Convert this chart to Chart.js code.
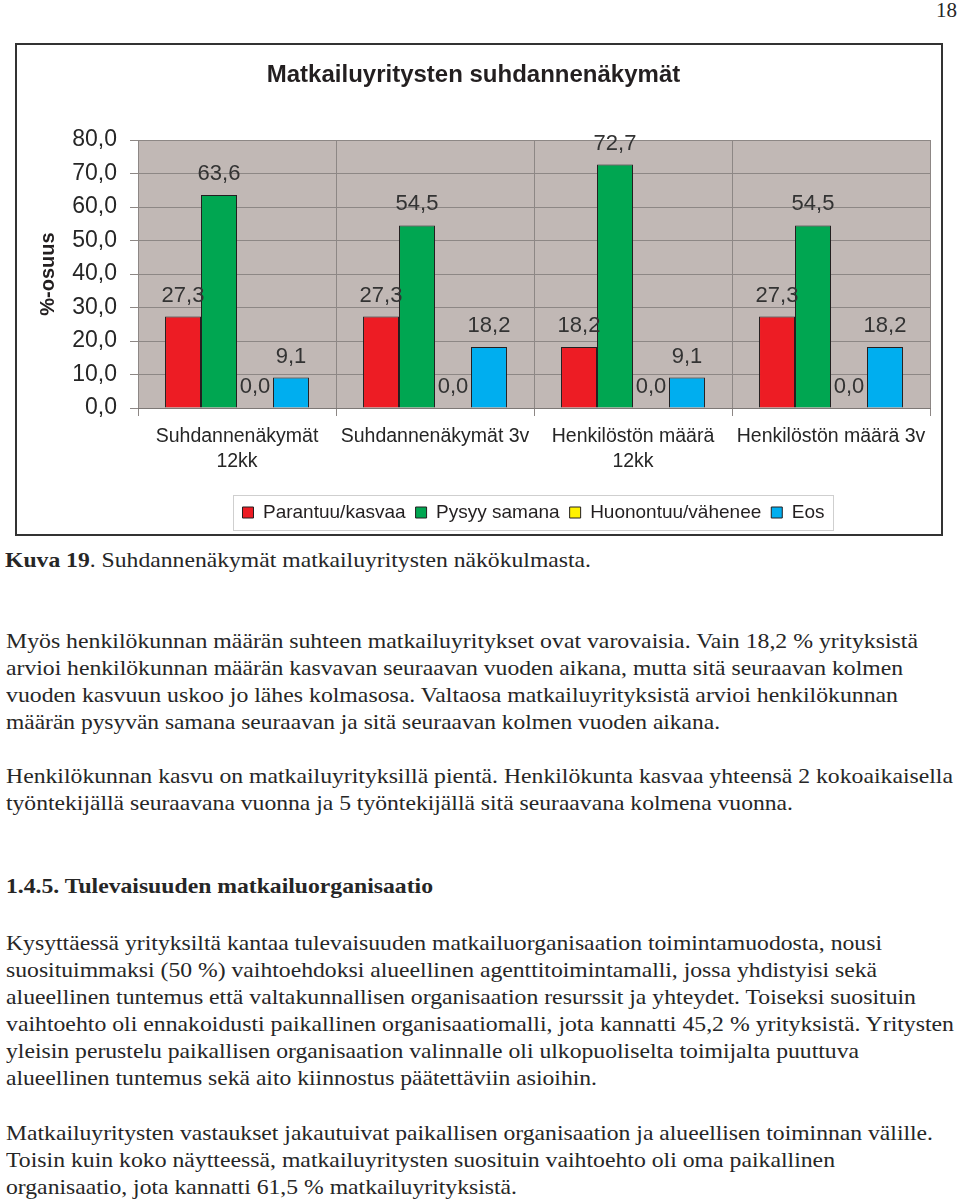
<!DOCTYPE html>
<html>
<head>
<meta charset="utf-8">
<script src="https://cdn.jsdelivr.net/npm/chart.js@4.4.1/dist/chart.umd.min.js"></script>
<style>
  html, body { margin:0; padding:0; background:#fff; }
  body { width:960px; height:1204px; position:relative; overflow:hidden; }
  #box { position:absolute; left:15px; top:43px; width:924px; height:489px; border:2px solid #333; background:#fff; }
  #box canvas { position:absolute; left:0; top:0; }
  .ln { position:absolute; left:6px; white-space:nowrap; font-family:'Liberation Serif','Times New Roman',serif;
        font-size:21px; line-height:27px; color:#262626; transform-origin:0 0; }
  .b { font-weight:bold; }
</style>
</head>
<body>
<div class="ln" style="left:auto" id="pg" data-b="17">18</div>
<div id="box"><canvas id="c" width="924" height="489"></canvas></div>

<div class="ln" data-b="567" data-r="591" style="left:5px"><b>Kuva 19</b>. Suhdannenäkymät matkailuyritysten näkökulmasta.</div>

<div class="ln" data-b="648" data-r="918">Myös henkilökunnan määrän suhteen matkailuyritykset ovat varovaisia. Vain 18,2 % yrityksistä</div>
<div class="ln" data-b="675" data-r="903">arvioi henkilökunnan määrän kasvavan seuraavan vuoden aikana, mutta sitä seuraavan kolmen</div>
<div class="ln" data-b="702" data-r="898">vuoden kasvuun uskoo jo lähes kolmasosa. Valtaosa matkailuyrityksistä arvioi henkilökunnan</div>
<div class="ln" data-b="729" data-r="720">määrän pysyvän samana seuraavan ja sitä seuraavan kolmen vuoden aikana.</div>

<div class="ln" data-b="783" data-r="953">Henkilökunnan kasvu on matkailuyrityksillä pientä. Henkilökunta kasvaa yhteensä 2 kokoaikaisella</div>
<div class="ln" data-b="810" data-r="793">työntekijällä seuraavana vuonna ja 5 työntekijällä sitä seuraavana kolmena vuonna.</div>

<div class="ln b" data-b="893" data-r="433">1.4.5. Tulevaisuuden matkailuorganisaatio</div>

<div class="ln" data-b="950" data-r="882">Kysyttäessä yrityksiltä kantaa tulevaisuuden matkailuorganisaation toimintamuodosta, nousi</div>
<div class="ln" data-b="977" data-r="877">suosituimmaksi (50 %) vaihtoehdoksi alueellinen agenttitoimintamalli, jossa yhdistyisi sekä</div>
<div class="ln" data-b="1004" data-r="916">alueellinen tuntemus että valtakunnallisen organisaation resurssit ja yhteydet. Toiseksi suosituin</div>
<div class="ln" data-b="1031" data-r="954">vaihtoehto oli ennakoidusti paikallinen organisaatiomalli, jota kannatti 45,2 % yrityksistä. Yritysten</div>
<div class="ln" data-b="1058" data-r="859">yleisin perustelu paikallisen organisaation valinnalle oli ulkopuoliselta toimijalta puuttuva</div>
<div class="ln" data-b="1085" data-r="597">alueellinen tuntemus sekä aito kiinnostus päätettäviin asioihin.</div>

<div class="ln" data-b="1140" data-r="933">Matkailuyritysten vastaukset jakautuivat paikallisen organisaation ja alueellisen toiminnan välille.</div>
<div class="ln" data-b="1167" data-r="835">Toisin kuin koko näytteessä, matkailuyritysten suosituin vaihtoehto oli oma paikallinen</div>
<div class="ln" data-b="1194" data-r="517">organisaatio, jota kannatti 61,5 % matkailuyrityksistä.</div>

<script>
// ---- data ----
const chartTitle = 'Matkailuyritysten suhdannenäkymät';
const yAxisTitle = '%-osuus';
const categories = [['Suhdannenäkymät', '12kk'], 'Suhdannenäkymät 3v', ['Henkilöstön määrä', '12kk'], 'Henkilöstön määrä 3v'];
const seriesNames = ['Parantuu/kasvaa', 'Pysyy samana', 'Huonontuu/vähenee', 'Eos'];
const parantuu = [27.3, 27.3, 18.2, 27.3];
const pysyy = [63.6, 54.5, 72.7, 54.5];
const huonontuu = [0.0, 0.0, 0.0, 0.0];
const eos = [9.1, 18.2, 9.1, 18.2];
const yMin = 0, yMax = 80, yStep = 10;
const seriesColors = ['#ed1c24', '#00a651', '#fff200', '#00aeef'];

// ---- text line layout ----
document.querySelectorAll('.ln').forEach(el => {
  const b = +el.dataset.b;
  el.style.top = (b - 20.5) + 'px';
  if (el.id === 'pg') { el.style.left = (957 - el.getBoundingClientRect().width) + 'px'; return; }
  if (el.dataset.r) {
    const left = parseFloat(getComputedStyle(el).left);
    const w = el.getBoundingClientRect().width;
    el.style.transform = 'scaleX(' + ((+el.dataset.r - left) / w) + ')';
  }
});

const fmt = v => Number(v).toFixed(1).replace('.', ',');
const FONT = "'Liberation Sans', Arial, sans-serif";

const plotBg = {
  id: 'plotBg',
  beforeDraw(chart) {
    const {ctx, chartArea: a} = chart;
    ctx.save();
    ctx.fillStyle = '#c1b8b5';
    ctx.fillRect(a.left, a.top, a.right - a.left, a.bottom - a.top);
    ctx.restore();
  }
};

const barLabels = {
  id: 'barLabels',
  afterDatasetsDraw(chart) {
    const ctx = chart.ctx;
    ctx.save();
    ctx.font = '22px ' + FONT;
    ctx.fillStyle = '#333333';
    ctx.textAlign = 'center';
    ctx.textBaseline = 'middle';
    chart.data.datasets.forEach((ds, i) => {
      chart.getDatasetMeta(i).data.forEach((bar, j) => {
        ctx.fillText(fmt(ds.data[j]), bar.x, bar.y - 21);
      });
    });
    ctx.restore();
  }
};

const legendFrame = {
  id: 'legendFrame',
  afterLayout(chart) {
    const lg = chart.legend;
    if (lg) { lg.left += 60; lg.right += 60; }
  },
  afterDraw(chart) {
    const lg = chart.legend;
    if (!lg || !lg.legendHitBoxes || !lg.legendHitBoxes.length) return;
    const hb = lg.legendHitBoxes;
    let l = Infinity, r = -Infinity, t = Infinity, bt = -Infinity;
    hb.forEach(h => { l = Math.min(l, h.left); r = Math.max(r, h.left + h.width); t = Math.min(t, h.top); bt = Math.max(bt, h.top + h.height); });
    const ctx = chart.ctx;
    ctx.save();
    ctx.strokeStyle = '#cfcfcf';
    ctx.lineWidth = 1;
    ctx.strokeRect(Math.round(l - 9) + 0.5, Math.round(t - 8) + 0.5, Math.round(r - l + 18), Math.round(bt - t + 16));
    ctx.restore();
  }
};

const mk = (label, data, color) => ({
  label, data, backgroundColor: color, borderColor: '#231f20', borderWidth: 1,
  categoryPercentage: 0.727, barPercentage: 1.0
});

new Chart(document.getElementById('c'), {
  type: 'bar',
  data: {
    labels: categories,
    datasets: [
      mk(seriesNames[0], parantuu, seriesColors[0]),
      mk(seriesNames[1], pysyy, seriesColors[1]),
      mk(seriesNames[2], huonontuu, seriesColors[2]),
      mk(seriesNames[3], eos, seriesColors[3])
    ]
  },
  options: {
    responsive: false,
    maintainAspectRatio: false,
    animation: false,
    devicePixelRatio: 1,
    layout: { padding: { left: 0, right: 11, top: 0, bottom: 2 } },
    plugins: {
      title: {
        display: true, text: chartTitle, color: '#231f20',
        font: { family: FONT, size: 24, weight: 'bold', lineHeight: 1.2 },
        padding: { top: 16, bottom: 50.2 }
      },
      legend: {
        position: 'bottom',
        labels: {
          color: '#231f20', font: { family: FONT, size: 19 },
          boxWidth: 11, boxHeight: 11, padding: 10
        }
      },
      tooltip: { enabled: false }
    },
    scales: {
      x: {
        grid: { color: '#8d8785', lineWidth: 1, offset: true, tickLength: 8, drawOnChartArea: true },
        border: { color: '#7d7876', width: 1 },
        ticks: { color: '#262626', font: { family: FONT, size: 19.5, lineHeight: 1.28 }, padding: 8, maxRotation: 0, autoSkip: false },
        afterFit(s) { s.height = 85; }
      },
      y: {
        min: yMin, max: yMax,
        grid: { color: '#8d8785', lineWidth: 1, tickLength: 8 },
        border: { display: false },
        ticks: { stepSize: yStep, color: '#262626', font: { family: FONT, size: 23 }, padding: 13, callback: v => fmt(v) },
        title: { display: true, text: yAxisTitle, color: '#231f20', font: { family: FONT, size: 20, weight: 'bold', lineHeight: 1.2 }, padding: { top: 19, bottom: 0 } },
        afterFit(s) { s.width = 121; }
      }
    }
  },
  plugins: [plotBg, barLabels, legendFrame]
});
</script>
</body>
</html>
